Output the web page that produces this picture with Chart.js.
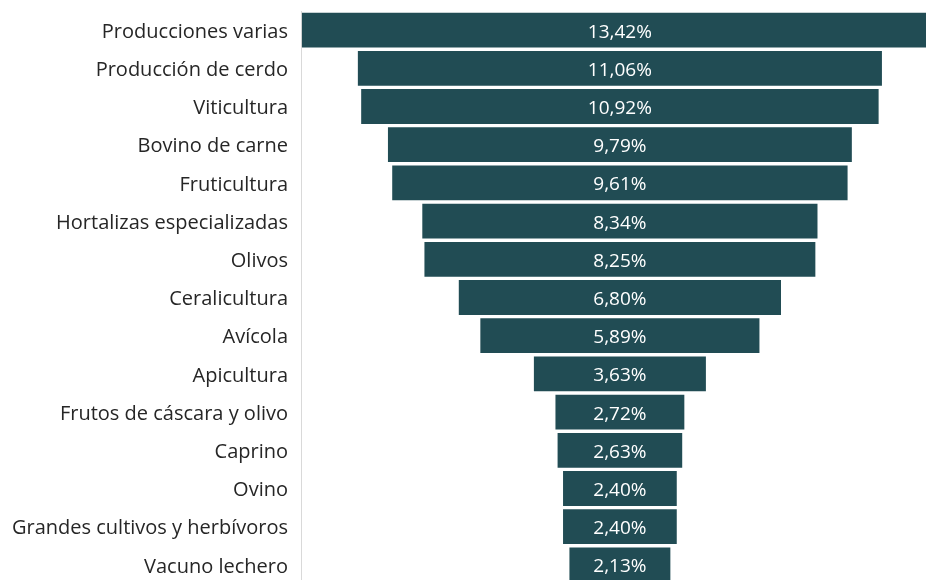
<!DOCTYPE html>
<html>
<head>
<meta charset="utf-8">
<script src="https://cdn.jsdelivr.net/npm/chart.js@4/dist/chart.umd.min.js"></script>
<style>
  html, body { margin: 0; padding: 0; background: #fff; overflow: hidden; }
  #wrap { width: 926px; height: 623px; margin-top: -14px; }
</style>
</head>
<body>
<div id="wrap"><canvas id="funnel" width="926" height="623"></canvas></div>
<script>
const categories = [
    'Producciones varias',
    'Producción de cerdo',
    'Viticultura',
    'Bovino de carne',
    'Fruticultura',
    'Hortalizas especializadas',
    'Olivos',
    'Ceralicultura',
    'Avícola',
    'Apicultura',
    'Frutos de cáscara y olivo',
    'Caprino',
    'Ovino',
    'Grandes cultivos y herbívoros',
    'Vacuno lechero'
];
const shares = [13.42, 11.06, 10.92, 9.79, 9.61, 8.34, 8.25, 6.80, 5.89, 3.63, 2.72, 2.63, 2.40, 2.40, 2.13];

const barColor = '#214c54';
const textColor = '#262626';

// funnel: each bar spans symmetric around zero
const funnelData = shares.map(v => [-v / 2, v / 2]);

function formatPct(v) {
    return v.toFixed(2).replace('.', ',') + '%';
}

const valueLabels = {
    id: 'valueLabels',
    afterDatasetsDraw(chart) {
        const ctx = chart.ctx;
        const meta = chart.getDatasetMeta(0);
        ctx.save();
        ctx.fillStyle = '#ffffff';
        ctx.font = '19px "Open Sans"';
        ctx.textAlign = 'center';
        ctx.textBaseline = 'middle';
        meta.data.forEach((bar, i) => {
            const cx = (bar.x + bar.base) / 2;
            ctx.fillText(formatPct(shares[i]), cx, bar.y + 2);
        });
        ctx.restore();
    }
};

const ctx = document.getElementById('funnel').getContext('2d');
new Chart(ctx, {
    type: 'bar',
    data: {
        labels: categories,
        datasets: [{
            data: funnelData,
            backgroundColor: barColor,
            borderWidth: 0,
            barPercentage: 0.91,
            categoryPercentage: 1
        }]
    },
    options: {
        indexAxis: 'y',
        responsive: false,
        animation: false,
        devicePixelRatio: 1,
        layout: { padding: 0 },
        plugins: {
            legend: { display: false },
            tooltip: { enabled: false }
        },
        scales: {
            x: {
                display: false,
                min: -6.73,
                max: 6.46
            },
            y: {
                grid: { display: false, drawTicks: false },
                border: { display: true, color: '#d9d9d9', width: 1 },
                ticks: {
                    color: textColor,
                    padding: 13,
                    labelOffset: 2,
                    font: { family: '"Open Sans"', size: 20 }
                },
                afterFit(scale) {
                    scale.width = 301;
                }
            }
        }
    },
    plugins: [valueLabels]
});
</script>
</body>
</html>
